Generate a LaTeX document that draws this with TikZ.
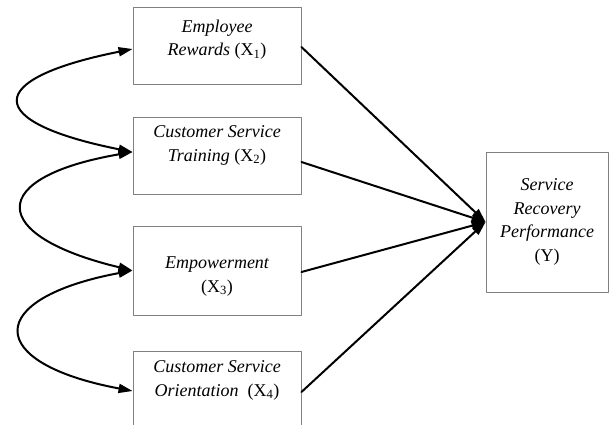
\documentclass[tikz,border=0pt]{standalone}
\usepackage{fontspec}
\setmainfont{Liberation Serif}
\usetikzlibrary{arrows.meta,positioning}
\newcommand{\Xsub}[1]{{\upshape(X\textsubscript{#1})}}

\begin{document}
\begin{tikzpicture}[line cap=round,line join=round,x=1pt,y=-1pt,
  >={Triangle[length=14pt,width=9pt]},
  box/.style={draw=gray,line width=0.9pt,minimum width=168pt,inner sep=0pt},
  lbl/.style={align=center,inner sep=0pt,
    font=\fontsize{18}{23.5}\selectfont\itshape},
  link/.style={line width=2pt,<->},
  path/.style={line width=2pt,->}]
  \useasboundingbox (0,0) rectangle (610,424);
  \clip (0,0) rectangle (610,424);
  % the four predictors
  \node[box,minimum height=77pt] (x1) at (217,45.5) {};
  \node[box,minimum height=77pt] (x2) at (217,155.5) {};
  \node[box,minimum height=89pt] (x3) at (217,270.5) {};
  \node[box,minimum height=80pt] (x4) at (217,391) {};
  \node[lbl,below=13pt of x1.north] (t1) {Employee\\Rewards \Xsub{1}};
  \node[lbl,below=9pt of x2.north] (t2) {Customer Service\\Training \Xsub{2}};
  \node[lbl,below=31pt of x3.north] (t3) {Empowerment\\\Xsub{3}};
  \node[lbl,below=10pt of x4.north] (t4) {Customer Service\\Orientation~ \Xsub{4}};
  % outcome
  \node[box,minimum width=122pt,minimum height=140pt,lbl,draw=gray,
    line width=0.9pt] (y) at (547,222)
    {Service\\Recovery\\Performance\\{\upshape(Y)}};
  % correlations
  \draw[link] ([yshift=-3.5pt]x1.west) .. controls +(-150,30) and +(-150,-30) .. ([yshift=3.5pt]x2.west);
  \draw[link] ([yshift=3.5pt]x2.west) .. controls +(-146,25) and +(-146,-35) .. (x3.west);
  \draw[link] (x3.west) .. controls +(-149,28) and +(-149,-28) .. (x4.west);
  % paths to Y
  \draw[path] ([yshift=-1.5pt]x1.east) -- (y.west);
  \draw[path] ([yshift=-6.5pt]x2.east) -- (y.west);
  \draw[path] ([yshift=-1.5pt]x3.east) -- (y.west);
  \draw[path] ([yshift=-1pt]x4.east) -- (y.west);
\end{tikzpicture}
\end{document}
